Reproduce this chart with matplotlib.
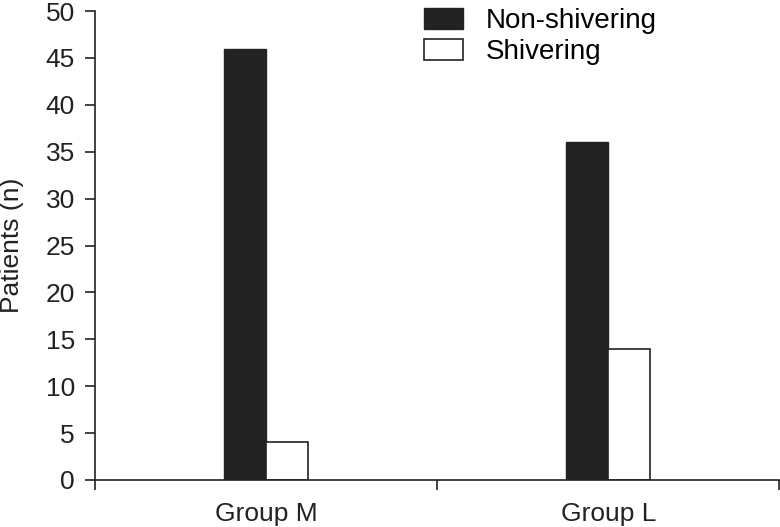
import matplotlib.pyplot as plt
from matplotlib.patches import Patch

plt.rcParams['font.family'] = ['Liberation Sans', 'DejaVu Sans']

groups = ['Group M', 'Group L']
non_shivering = [46, 36]
shivering = [4, 14]

ink = '#222222'
width = 0.123
fs = 19

fig = plt.figure(figsize=(7.8, 5.27), dpi=100)
ax = fig.add_axes([0.1218, 0.0892, 0.8775, 0.8899])

centers = [0.5, 1.5]
ax.bar([c - width / 2 for c in centers], non_shivering, width,
       color=ink, edgecolor=ink, linewidth=1.0, label='Non-shivering')
ax.bar([c + width / 2 for c in centers], shivering, width,
       color='white', edgecolor=ink, linewidth=1.2, label='Shivering')

ax.set_xlim(0, 2)
ax.set_ylim(0, 50)
ax.set_yticks(range(0, 51, 5))
ax.set_xticks([0, 1, 2])
ax.set_xticklabels([])
ax.set_xticks(centers, minor=True)
ax.set_xticklabels(groups, minor=True)

for s in ['top', 'right']:
    ax.spines[s].set_visible(False)
for s in ['left', 'bottom']:
    ax.spines[s].set_color(ink)
    ax.spines[s].set_linewidth(1.2)

ax.tick_params(axis='y', direction='out', length=7.5, width=1.2,
               color=ink, labelsize=fs, labelcolor=ink, pad=7)
ax.tick_params(axis='x', which='major', direction='out', length=7.5,
               width=1.2, color=ink)
ax.tick_params(axis='x', which='minor', length=0, labelsize=fs,
               labelcolor=ink, pad=16)
ax.set_ylabel('Patients (n)', fontsize=fs, color=ink)
ax.yaxis.set_label_coords(-0.104, 0.5)

handles = [Patch(facecolor=ink, edgecolor=ink, label='Non-shivering'),
           Patch(facecolor='white', edgecolor=ink, linewidth=1.2,
                 label='Shivering')]
ax.legend(handles=handles, loc='upper left', bbox_to_anchor=(0.481, 1.006),
          frameon=False, fontsize=20, handlelength=1.4,
          handleheight=0.8, handletextpad=0.83, labelspacing=0.15,
          borderaxespad=0, borderpad=0)

fig.savefig('out.png', dpi=100)
